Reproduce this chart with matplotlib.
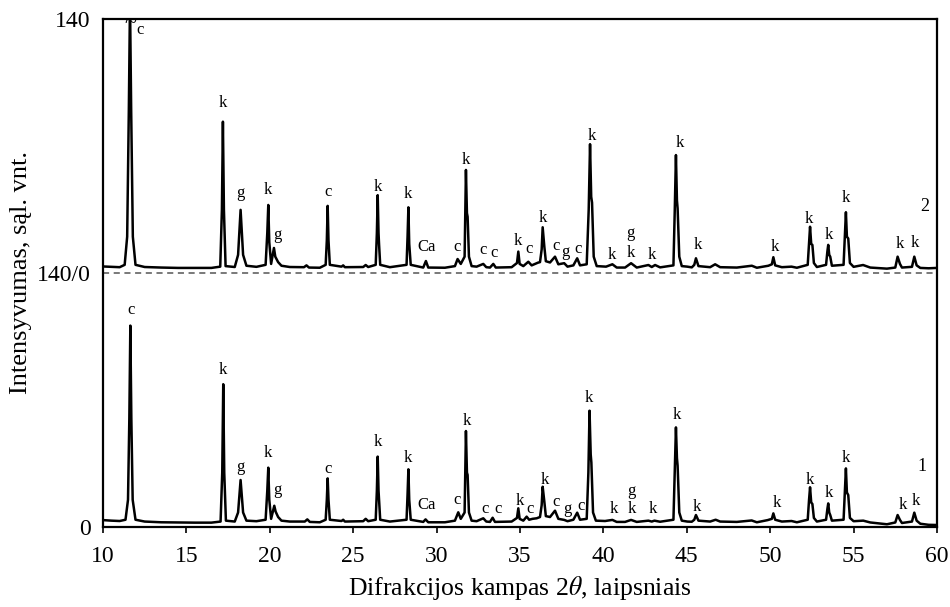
#!/usr/bin/env python3
"""XRD patterns of two samples, stacked (1 bottom, 2 top)."""

import matplotlib
matplotlib.use("Agg")
import matplotlib.pyplot as plt

# sample 1 (bottom) trace: 2theta and intensity
two_theta_1 = [
    10.0, 10.5, 11.0, 11.35, 11.5, 11.58, 11.64, 11.70, 11.78, 11.95,
    12.5, 13.5, 14.5, 15.5, 16.5, 17.05, 17.15, 17.21, 17.27, 17.37,
    17.9, 18.1, 18.25, 18.4, 18.6, 19.2, 19.75, 19.85, 19.91, 19.97,
    20.08, 20.2, 20.27, 20.35, 20.5, 20.7, 21.2, 22.1, 22.25, 22.4,
    23.0, 23.35, 23.42, 23.47, 23.52, 23.6, 24.3, 24.4, 24.5, 25.6,
    25.75, 25.9, 26.35, 26.42, 26.47, 26.52, 26.55, 26.62, 27.2, 28.2,
    28.26, 28.31, 28.36, 28.45, 29.2, 29.34, 29.5, 30.5, 31.1, 31.3,
    31.45, 31.68, 31.76, 31.82, 31.86, 31.94, 32.1, 32.4, 32.8, 32.98,
    33.2, 33.36, 33.5, 34.5, 34.82, 34.9, 34.98, 35.2, 35.4, 35.55,
    35.75, 36.0, 36.2, 36.3, 36.36, 36.46, 36.55, 36.8, 37.1, 37.3,
    37.65, 37.85, 38.2, 38.43, 38.6, 39.0, 39.1, 39.17, 39.24, 39.28,
    39.38, 39.55, 40.1, 40.54, 40.8, 41.3, 41.66, 42.0, 42.7, 42.9,
    43.06, 43.4, 44.2, 44.28, 44.35, 44.41, 44.45, 44.55, 44.7, 45.03,
    45.3, 45.45, 45.55, 45.7, 46.4, 46.73, 47.0, 48.0, 48.89, 49.2,
    49.85, 50.1, 50.19, 50.3, 50.7, 51.28, 51.6, 52.25, 52.33, 52.39,
    52.46, 52.53, 52.62, 52.8, 53.35, 53.43, 53.48, 53.54, 53.6, 53.7,
    54.4, 54.48, 54.54, 54.6, 54.68, 54.78, 55.0, 55.58, 56.0, 57.0,
    57.5, 57.64, 57.78, 57.9, 58.5, 58.64, 58.78, 59.0, 59.5, 60.0,
]
intensity_1 = [
    3.8, 3.5, 3.3, 4.0, 15, 60, 111, 60, 15, 4.0,
    3.0, 2.6, 2.5, 2.4, 2.4, 3.0, 30, 78.7, 30, 3.5,
    3.0, 8, 25.9, 8, 3.5, 3.2, 4, 20, 32.7, 15,
    4.5, 9, 11.7, 8.5, 5.5, 3.5, 3.0, 3.0, 4.2, 2.8,
    2.6, 4, 15, 26.8, 15, 4, 3.3, 4, 3, 3.2,
    4.5, 3.2, 4, 20, 38.8, 20, 15, 4, 3, 4,
    18, 31.8, 15, 4, 2.8, 4.2, 2.6, 2.6, 3.5, 8.1,
    4.5, 8, 52.9, 30, 28.7, 8, 3.5, 3.2, 4.8, 3,
    2.8, 5.1, 2.8, 3, 5, 10.3, 4.5, 3.5, 5.7, 4.0,
    4.5, 4.8, 5.5, 12, 22.2, 14, 6, 5.5, 9, 4.5,
    3.9, 3.2, 4, 7.9, 4, 4.5, 30, 64.1, 40, 35.5,
    8, 3.5, 3.3, 3.9, 2.8, 2.8, 3.9, 2.8, 3.5, 3.0,
    3.5, 2.9, 4, 30, 54.9, 38, 33.8, 8, 3.5, 3,
    2.9, 4, 6.6, 3.5, 3, 4, 3, 2.8, 3.6, 2.6,
    3.8, 4.5, 7.5, 4.0, 3, 3.3, 2.6, 4, 15, 21.9,
    13.5, 12.7, 5, 3, 4, 10, 13, 8, 6.6, 3.5,
    4, 20, 32.3, 19, 17.6, 5, 3.2, 3.5, 2.5, 1.5,
    2.5, 6.6, 3.9, 2.2, 3, 7.9, 3.5, 1.8, 1.2, 1.1,
]

# sample 2 (top) trace, intensity above its own zero line
two_theta_2 = [
    10.0, 10.5, 11.0, 11.3, 11.45, 11.55, 11.62, 11.69, 11.79, 11.95,
    12.5, 13.5, 14.5, 15.5, 16.5, 17.03, 17.13, 17.19, 17.25, 17.35,
    17.9, 18.1, 18.25, 18.4, 18.6, 19.2, 19.75, 19.85, 19.91, 19.97,
    20.08, 20.18, 20.25, 20.33, 20.5, 20.7, 21.2, 22.05, 22.2, 22.35,
    23.0, 23.35, 23.42, 23.47, 23.52, 23.6, 24.3, 24.4, 24.5, 25.6,
    25.75, 25.9, 26.35, 26.42, 26.47, 26.52, 26.55, 26.62, 27.2, 28.2,
    28.26, 28.31, 28.36, 28.45, 29.2, 29.36, 29.5, 30.5, 31.1, 31.26,
    31.45, 31.68, 31.76, 31.82, 31.86, 31.94, 32.1, 32.4, 32.8, 32.98,
    33.2, 33.4, 33.55, 34.5, 34.82, 34.9, 34.98, 35.2, 35.5, 35.7,
    35.9, 36.08, 36.2, 36.3, 36.36, 36.46, 36.55, 36.8, 37.1, 37.3,
    37.65, 37.85, 38.2, 38.43, 38.6, 39.0, 39.12, 39.2, 39.27, 39.32,
    39.42, 39.6, 40.16, 40.54, 40.8, 41.3, 41.66, 42.0, 42.7, 42.9,
    43.1, 43.4, 44.2, 44.28, 44.35, 44.41, 44.45, 44.55, 44.7, 45.03,
    45.3, 45.45, 45.55, 45.7, 46.4, 46.7, 47.0, 48.0, 48.9, 49.2,
    49.89, 50.1, 50.19, 50.3, 50.7, 51.28, 51.6, 52.25, 52.33, 52.39,
    52.46, 52.53, 52.62, 52.8, 53.35, 53.43, 53.48, 53.54, 53.6, 53.7,
    54.4, 54.48, 54.54, 54.6, 54.68, 54.78, 55.0, 55.57, 56.0, 57.0,
    57.5, 57.64, 57.78, 57.9, 58.5, 58.64, 58.78, 59.0, 59.5, 60.0,
]
intensity_2 = [
    3.6, 3.4, 3.2, 4.5, 20, 90, 150, 90, 20, 4.5,
    3.3, 3.0, 2.8, 2.8, 2.8, 3.5, 35, 83.4, 35, 3.8,
    3.3, 10, 34.8, 10, 4, 3.4, 4.5, 22, 37.5, 17,
    5, 10, 13.8, 9, 6, 4, 3.3, 3.2, 4.2, 3.0,
    2.9, 4.5, 18, 37, 18, 4.5, 3.5, 4.2, 3.2, 3.3,
    4.4, 3.3, 4.5, 22, 42.9, 22, 16, 4.5, 3.2, 4.5,
    20, 36.2, 16, 4.5, 3.0, 6.6, 3.0, 2.9, 3.8, 7.7,
    5, 9, 56.8, 33, 31, 9, 3.8, 3.5, 5, 3.2,
    3.0, 5, 3.0, 3.2, 5.5, 11.8, 5, 3.8, 6.2, 4.2,
    5, 5.7, 6, 13, 25.2, 14.5, 6.5, 5.8, 9, 4.8,
    5.4, 3.5, 4.2, 8.1, 4.2, 4.8, 35, 71, 42, 38.8,
    9, 3.8, 3.5, 4.8, 3.0, 3.0, 5.4, 3.0, 4.4, 3.3,
    4.4, 3.1, 4.2, 35, 65, 40, 35.6, 9, 3.8, 3.5,
    3.1, 4.5, 8.1, 3.8, 3.2, 4.8, 3.2, 3.0, 4, 2.9,
    4, 4.8, 8.7, 4.2, 3.2, 3.5, 2.9, 4.5, 17, 25.5,
    16, 15.5, 5.5, 3.3, 4.5, 12, 15.5, 10, 9, 4,
    4.5, 21, 33.5, 20, 19, 5.5, 3.4, 4.4, 3.0, 2.4,
    3.0, 9, 5, 3.0, 3.4, 9, 4.2, 2.8, 2.6, 2.8,
]

# phase marks: c, k, g, Ca (position in 2theta, height above the trace zero)
marks_1_x = [11.68, 17.19, 18.27, 19.89, 20.43, 23.49, 26.49, 28.29, 29.42,
             31.22, 31.82, 32.9, 33.68, 35.0, 35.6, 36.5, 37.16, 37.82, 38.66,
             39.14, 40.64, 41.71, 41.71, 42.97, 44.41, 45.61, 50.41, 52.39,
             53.53, 54.55, 57.96, 58.74]
marks_1_y = [119.6, 86.5, 33.1, 40.8, 20.4, 32.0, 46.9, 38.0, 12.1,
             14.9, 58.4, 9.9, 9.9, 14.3, 9.9, 25.9, 13.8, 9.9, 11.6,
             71.1, 9.9, 19.8, 9.9, 9.9, 61.7, 11.0, 13.2, 25.9,
             18.7, 38.0, 12.1, 14.3]
marks_1_txt = ["c", "k", "g", "k", "g", "c", "k", "k", "Ca",
               "c", "k", "c", "c", "k", "c", "k", "c", "g", "c",
               "k", "k", "g", "k", "k", "k", "k", "k", "k",
               "k", "k", "k", "k"]

marks_2_x = [12.22, 17.19, 18.27, 19.89, 20.43, 23.49, 26.49, 28.29, 29.42,
             31.22, 31.76, 32.78, 33.44, 34.88, 35.54, 36.38, 37.16, 37.7,
             38.48, 39.32, 40.52, 41.65, 41.65, 42.91, 44.59, 45.67, 50.29,
             52.33, 53.53, 54.55, 57.78, 58.68]
marks_2_y = [134.0, 93.7, 44.1, 45.8, 21.0, 44.7, 47.4, 43.6, 14.4,
             14.4, 62.3, 12.7, 11.0, 17.7, 13.3, 30.3, 14.9, 11.6,
             13.3, 75.5, 9.9, 22.1, 11.0, 9.9, 71.7, 15.5, 14.4,
             29.8, 21.0, 41.4, 16.0, 16.6]
marks_2_txt = ["c", "k", "g", "k", "g", "c", "k", "k", "Ca",
               "c", "k", "c", "c", "k", "c", "k", "c", "g",
               "c", "k", "k", "g", "k", "k", "k", "k", "k",
               "k", "k", "k", "k", "k"]

sample_names = ["1", "2"]
sample_name_x = [59.1, 59.28]
sample_name_y = [33.1, 36.4]

OFFSET = 140
y_ticks = [0, 140, 280]
y_tick_labels = ["0", "140/0", "140"]

plt.rcParams["font.family"] = ["Liberation Serif", "DejaVu Serif"]
plt.rcParams["mathtext.fontset"] = "stix"

fig = plt.figure(figsize=(9.5, 6.07), dpi=100)
ax = fig.add_axes([0.1084, 0.1318, 0.8779, 0.8369])

ax.plot(two_theta_1, intensity_1, color="black", lw=1.8)
ax.plot(two_theta_2, [v + OFFSET for v in intensity_2], color="black", lw=1.8)
ax.axhline(OFFSET, color="#555555", lw=1.1, ls=(0, (4, 3)))

for x, y, t in zip(marks_1_x, marks_1_y, marks_1_txt):
    ax.text(x, y, t, ha="center", va="center", fontsize=12)
for x, y, t in zip(marks_2_x, marks_2_y, marks_2_txt):
    ax.text(x, y + OFFSET, t, ha="center", va="center", fontsize=12)

ax.text(sample_name_x[0], sample_name_y[0], sample_names[0],
        ha="center", va="center", fontsize=13)
ax.text(sample_name_x[1], sample_name_y[1] + OFFSET, sample_names[1],
        ha="center", va="center", fontsize=13)

# break mark on the clipped peak
ax.text(11.62, 2 * OFFSET - 2.5, "~", ha="center", va="center", fontsize=16,
        clip_on=False, zorder=5)

ax.set_xlim(10, 60)
ax.set_ylim(0, 2 * OFFSET)
ax.set_xticks(range(10, 61, 5))
ax.set_yticks(y_ticks)
ax.set_yticklabels(y_tick_labels)
ax.tick_params(axis="x", direction="out", length=4, width=1.2,
               labelsize=17, pad=10)
ax.tick_params(axis="y", length=0, labelsize=17, pad=9)
for s in ax.spines.values():
    s.set_linewidth(1.6)

ax.set_xlabel(r"Difrakcijos kampas 2$\theta$, laipsniais", fontsize=18.5,
              labelpad=5)
ax.set_ylabel("Intensyvumas, sąl. vnt.", fontsize=19, labelpad=3)

fig.savefig("out.png", dpi=100)
